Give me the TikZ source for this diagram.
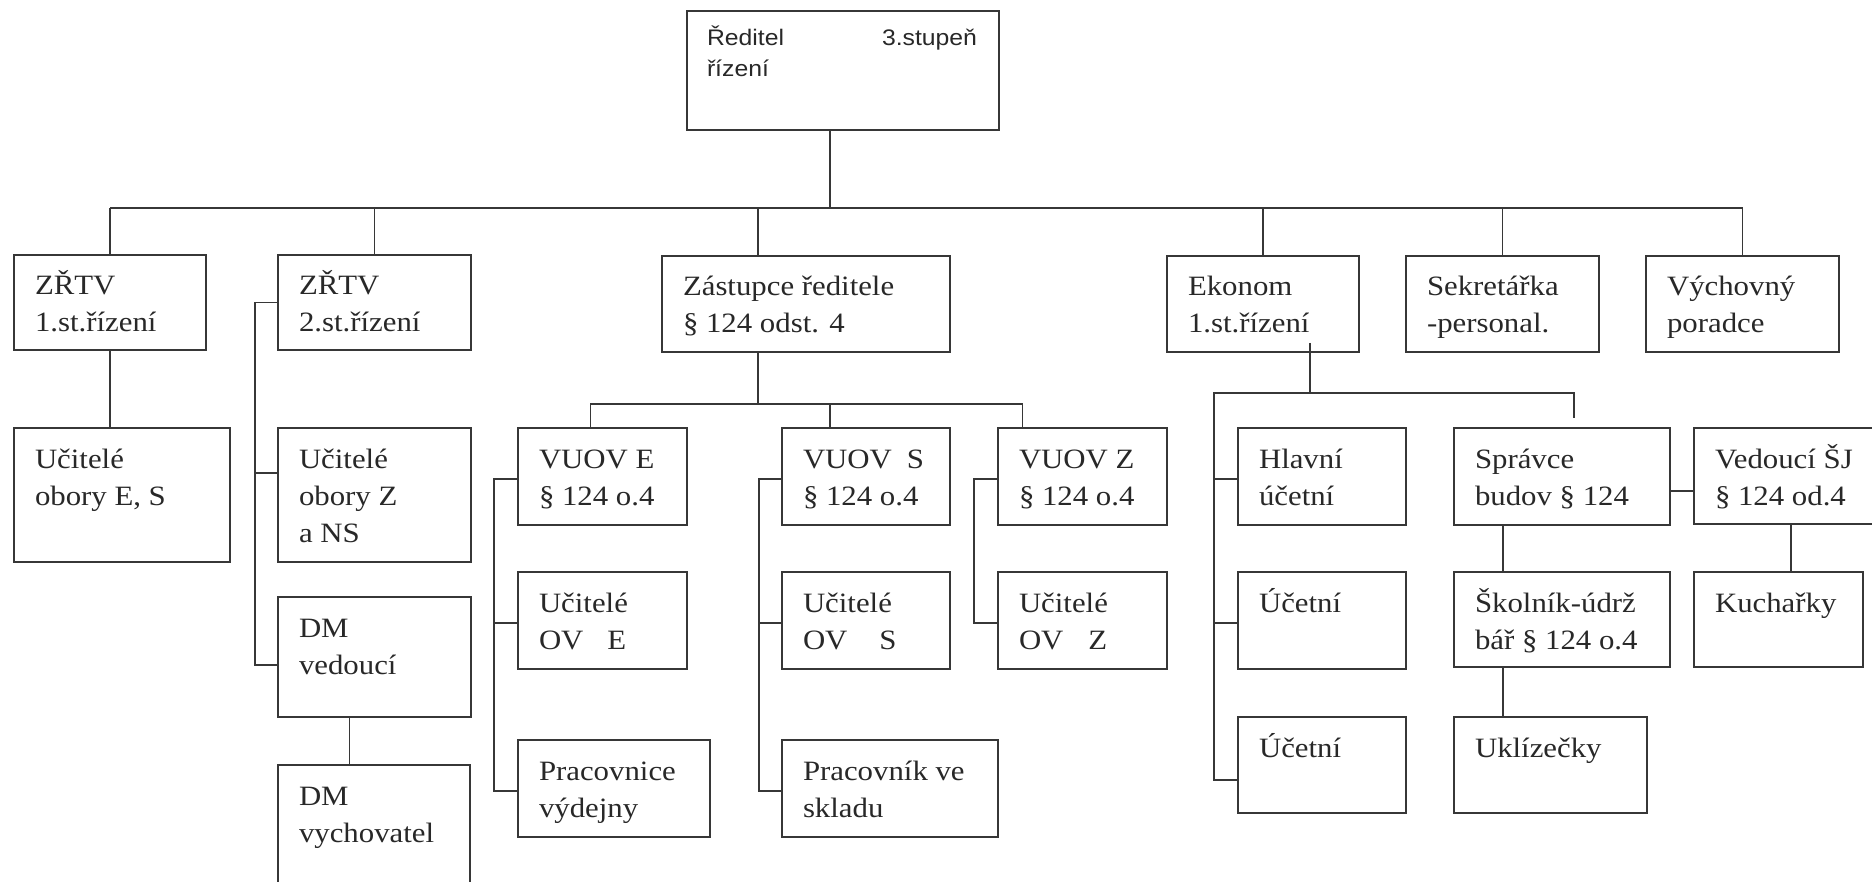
\documentclass[tikz,border=0pt]{standalone}
\usepackage{fontspec}
\setmainfont{Liberation Serif}[FakeStretch=1.1]
\newfontfamily\topsans{Liberation Sans}[FakeStretch=1.1]
\usetikzlibrary{calc}
\definecolor{ln}{RGB}{55,55,55}
\definecolor{tx}{RGB}{40,40,40}
\tikzset{
  orgbox/.style={draw=ln, line width=1.8pt, rectangle, inner sep=0pt, outer sep=0pt, anchor=north west},
  orgtext/.style={text=tx, inner sep=0pt, outer sep=0pt, anchor=base west, font=\fontsize{28}{37}\selectfont},
  conn/.style={draw=ln, line width=1.6pt},
}
\newcommand\orgbx[6]{%
  \node[orgbox, minimum width=#4pt-#2pt, minimum height=#5pt-#3pt] (#1) at (#2,#3) {};
  \node[orgtext] (#1t) at ($(#1.north west)+(21,40)$) {\begin{tabular}[t]{@{}l@{}}#6\end{tabular}};
}
\begin{document}
\begin{tikzpicture}[x=1pt,y=-1pt]
\useasboundingbox (0,0) rectangle (1872,882);
\fill[white] (0,0) rectangle (1872,882);
\clip (0,0) rectangle (1872,882);

% top box
\node[orgbox, minimum width=312pt, minimum height=119pt] (top) at (687,11) {};
\node[orgtext, font=\topsans\fontsize{22.5}{31}\selectfont] (topt) at ($(top.north west)+(20,35)$)
  {\begin{tabular}[t]{@{}l@{}}\makebox[175pt][l]{Ředitel}3.stupeň\\řízení\end{tabular}};

% first level
\orgbx{ZR1}{14}{255}{206}{350}{ZŘTV\\1.st.řízení}
\orgbx{ZR2}{278}{255}{471}{350}{ZŘTV\\2.st.řízení}
\orgbx{ZAS}{662}{256}{950}{352}{Zástupce ředitele\\§ 124 odst. 4}
\orgbx{EKO}{1167}{256}{1359}{352}{Ekonom\\1.st.řízení}
\orgbx{SEK}{1406}{256}{1599}{352}{Sekretářka\\-personal.}
\orgbx{VYC}{1646}{256}{1839}{352}{Výchovný\\poradce}

% under ZRTV
\orgbx{UES}{14}{428}{230}{562}{Učitelé\\obory E, S}
\orgbx{UZ}{278}{428}{471}{562}{Učitelé\\obory Z\\a NS}
\orgbx{DMV}{278}{597}{471}{717}{DM\\vedoucí}
\orgbx{DMW}{278}{765}{470}{930}{DM\\vychovatel}

% under Zastupce
\orgbx{VE}{518}{428}{687}{525}{VUOV E\\§ 124 o.4}
\orgbx{UOVE}{518}{572}{687}{669}{Učitelé\\OV\hspace{24pt}E}
\orgbx{PV}{518}{740}{710}{837}{Pracovnice\\výdejny}
\orgbx{VS}{782}{428}{950}{525}{VUOV\hspace{15pt}S\\§ 124 o.4}
\orgbx{UOVS}{782}{572}{950}{669}{Učitelé\\OV\hspace{32pt}S}
\orgbx{PS}{782}{740}{998}{837}{Pracovník ve\\skladu}
\orgbx{VZ}{998}{428}{1167}{525}{VUOV Z\\§ 124 o.4}
\orgbx{UOVZ}{998}{572}{1167}{669}{Učitelé\\OV\hspace{25pt}Z}

% under Ekonom
\orgbx{HU}{1238}{428}{1406}{525}{Hlavní\\účetní}
\orgbx{U1}{1238}{572}{1406}{669}{Účetní}
\orgbx{U2}{1238}{717}{1406}{813}{Účetní}
\orgbx{SB}{1454}{428}{1670}{525}{Správce\\budov § 124}
\orgbx{VSJ}{1694}{428}{1920}{524}{Vedoucí ŠJ\\§ 124 od.4}
\orgbx{SK}{1454}{572}{1670}{667}{Školník-údrž\\bář § 124 o.4}
\orgbx{KU}{1694}{572}{1863}{667}{Kuchařky}
\orgbx{UK}{1454}{717}{1647}{813}{Uklízečky}

% main bus
\coordinate (busL) at (110,208);
\coordinate (busR) at (1743,208);
\draw[conn] (busL) -- (busR);
\coordinate (topdrop) at ([xshift=-13pt]top.south);
\draw[conn] (topdrop) -- (topdrop |- busL);
\foreach \n in {ZR1,ZR2,EKO,SEK,VYC} \draw[conn] (\n.north) -- (\n.north |- busL);
\coordinate (zasup) at ([xshift=-48pt]ZAS.north);
\draw[conn] (zasup) -- (zasup |- busL);

% ZR1 -> UES
\draw[conn] (ZR1.south) -- (ZR1.south |- UES.north);

% ZR2 branch
\coordinate (bZ) at (255,0);
\coordinate (uzS) at ($(UZ.north west)+(0,45)$);
\coordinate (dmS) at ($(DMV.north west)+(0,68)$);
\draw[conn] (ZR2.west) -- (ZR2.west -| bZ) -- (dmS -| bZ) -- (dmS);
\draw[conn] (uzS) -- (uzS -| bZ);
\coordinate (dmd) at ([xshift=-25pt]DMV.south);
\draw[conn] (dmd) -- (dmd |- DMW.north);

% Zastupce -> VUOV
\coordinate (zasd) at ([xshift=-48pt]ZAS.south);
\coordinate (vbus) at (0,404);
\draw[conn] (zasd) -- (zasd |- vbus);
\coordinate (veD) at ([xshift=-12pt]VE.north);
\coordinate (vsD) at ([xshift=-36pt]VS.north);
\coordinate (vzD) at ([xshift=-60pt]VZ.north);
\draw[conn] (veD) -- (veD |- vbus) -- (vzD |- vbus) -- (vzD);
\draw[conn] (vsD) -- (vsD |- vbus);

% VUOV E branch
\coordinate (bE) at (494,0);
\coordinate (veS) at ($(VE.north west)+(0,51)$);
\coordinate (uoveS) at ($(UOVE.north west)+(0,51)$);
\coordinate (pvS) at ($(PV.north west)+(0,51)$);
\draw[conn] (veS) -- (veS -| bE) -- (pvS -| bE) -- (pvS);
\draw[conn] (uoveS) -- (uoveS -| bE);

% VUOV S branch
\coordinate (bS) at (759,0);
\coordinate (vsS) at ($(VS.north west)+(0,51)$);
\coordinate (uovsS) at ($(UOVS.north west)+(0,51)$);
\coordinate (psS) at ($(PS.north west)+(0,51)$);
\draw[conn] (vsS) -- (vsS -| bS) -- (psS -| bS) -- (psS);
\draw[conn] (uovsS) -- (uovsS -| bS);

% VUOV Z branch
\coordinate (bZZ) at (974,0);
\coordinate (vzS) at ($(VZ.north west)+(0,51)$);
\coordinate (uovzS) at ($(UOVZ.north west)+(0,51)$);
\draw[conn] (vzS) -- (vzS -| bZZ) -- (uovzS -| bZZ) -- (uovzS);

% Ekonom branch
\coordinate (ekd) at ([xshift=47pt,yshift=9pt]EKO.south);
\coordinate (ebus) at (0,393);
\coordinate (eL) at (1214,0);
\coordinate (eR) at (1574,418);
\draw[conn] (ekd) -- (ekd |- ebus);
\coordinate (huS) at ($(HU.north west)+(0,51)$);
\coordinate (u1S) at ($(U1.north west)+(0,51)$);
\coordinate (u2S) at ($(U2.north west)+(0,63)$);
\draw[conn] (eR) -- (eR |- ebus) -- (eL |- ebus) -- (u2S -| eL) -- (u2S);
\draw[conn] (huS) -- (huS -| eL);
\draw[conn] (u1S) -- (u1S -| eL);

% Spravce / Vedouci SJ
\coordinate (sbS) at ($(SB.north east)+(0,63)$);
\draw[conn, line width=2.6pt] (sbS) -- (sbS -| VSJ.west);
\coordinate (sbd) at ([xshift=-59pt]SB.south);
\draw[conn] (sbd) -- (sbd |- SK.north);
\coordinate (skd) at ([xshift=-59pt]SK.south);
\draw[conn] (skd) -- (skd |- UK.north);
\coordinate (kud) at ([xshift=12.5pt]KU.north);
\draw[conn] (kud |- VSJ.south) -- (kud);
\end{tikzpicture}
\end{document}
